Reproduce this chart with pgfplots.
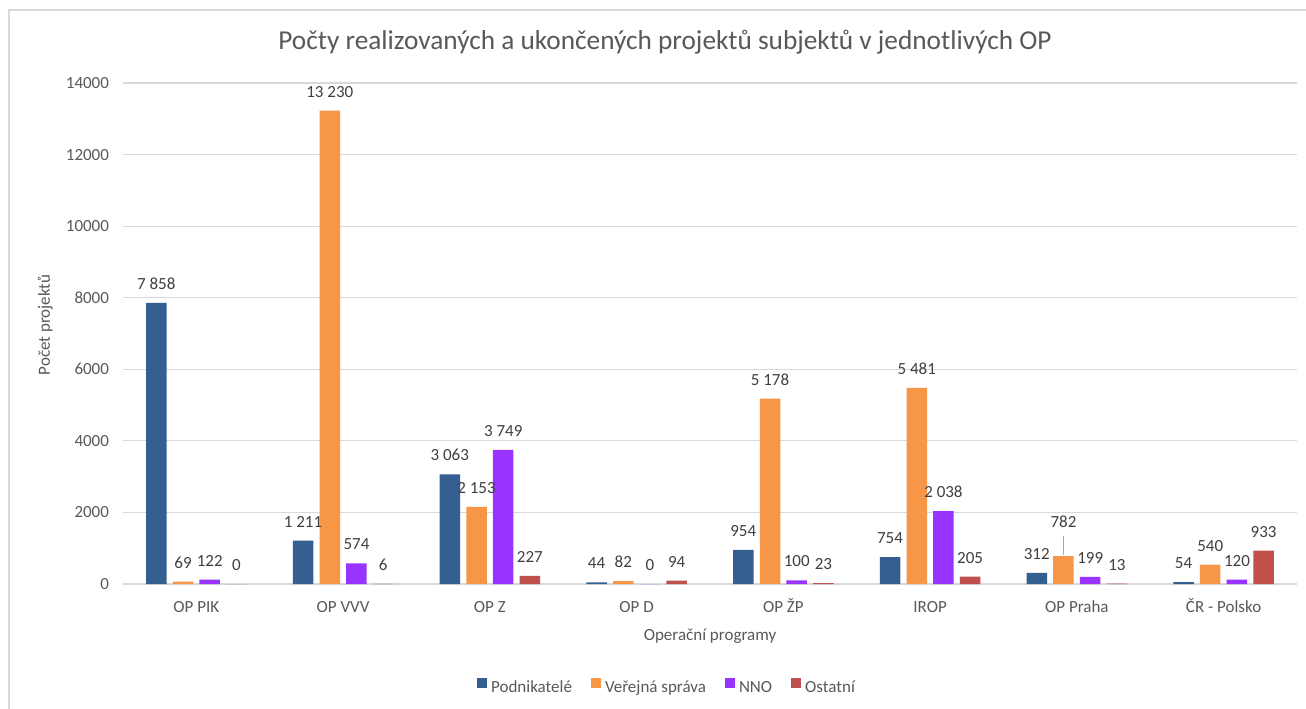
\documentclass[border=0pt]{standalone}
\usepackage{fontspec}
\setmainfont{Carlito}
\usepackage{pgfplots}
\pgfplotsset{compat=1.18}
\definecolor{cblue}{HTML}{365F91}
\definecolor{corange}{HTML}{F79646}
\definecolor{cpurple}{HTML}{9933FF}
\definecolor{cred}{HTML}{C0504D}
\definecolor{gridgray}{HTML}{D9D9D9}
\definecolor{axgray}{HTML}{595959}
\definecolor{lblgray}{HTML}{404040}
\newcommand{\fs}{\fontsize{17pt}{20pt}\selectfont}
\begin{document}
\begin{tikzpicture}
\path[use as bounding box] (-123pt,-125pt) rectangle (1183pt,584pt);
\clip (-123pt,-125pt) rectangle (1183pt,584pt);
\fill[white] (-123pt,-125pt) rectangle (1183pt,584pt);
\draw[gridgray, line width=1.2pt] (-114pt,574pt) rectangle (1190pt,-135pt);
\begin{axis}[
  at={(0pt,0pt)}, anchor=south west,
  scale only axis, width=1174pt, height=501pt,
  ybar=6.2pt, bar width=20.5pt,
  xmin=-0.5, xmax=7.5, ymin=0, ymax=14000,
  xtick={0,...,7},
  xticklabels={OP PIK, OP VVV, OP Z, OP D, OP ŽP, IROP, OP Praha, ČR - Polsko},
  ytick={0,2000,...,14000},
  scaled y ticks=false,
  ymajorgrids, grid style={draw=gridgray, line width=1.1pt},
  axis x line*=bottom, axis y line*=left, axis line style={draw=none},
  major tick length=0pt,
  /pgf/number format/assume math mode=true,
  yticklabel style={font=\fs, text=axgray, xshift=-10.5pt, /pgf/number format/1000 sep={}},
  xticklabel style={font=\fs, text=axgray, anchor=base, yshift=-28pt},
  nodes near coords,
  nodes near coords style={font=\fs, text=lblgray, anchor=base, yshift=13.5pt,
     /pgf/number format/1000 sep={\ }},
  every axis plot/.append style={draw=none},
  legend columns=-1,
  legend style={at={(axis description cs:0.4634,-0.2056)}, anchor=center,
     draw=none, fill=none, font=\fs, text=axgray,
     /tikz/every even column/.append style={column sep=17pt},
     /tikz/every odd column/.append style={column sep=2pt},
     nodes={inner sep=2pt}},
  legend image code/.code={\fill[#1] (0pt,-0.5pt) rectangle (10pt,9.5pt);},
]
\addplot[fill=cblue] coordinates {(0,7858) (1,1211) (2,3063) (3,44) (4,954) (5,754) (6,312) (7,54)};
\addplot[fill=corange,
  visualization depends on={value \coordindex \as \myidx},
  every node near coord/.append style={yshift={15*(\myidx==6)}}]
  coordinates {(0,69) (1,13230) (2,2153) (3,82) (4,5178) (5,5481) (6,782) (7,540)};
\addplot[fill=cpurple] coordinates {(0,122) (1,574) (2,3749) (3,0) (4,100) (5,2038) (6,199) (7,120)};
\addplot[fill=cred] coordinates {(0,0) (1,6) (2,227) (3,94) (4,23) (5,205) (6,13) (7,933)};
\legend{Podnikatelé, Veřejná správa, NNO, Ostatní}
\draw[gray!70, line width=1pt] ([xshift=-13.35pt, yshift=1pt]axis cs:6,782) -- ([xshift=-13.35pt, yshift=20pt]axis cs:6,782);
\end{axis}
\node[font=\fontsize{27.3pt}{31pt}\selectfont, text=axgray, anchor=base] at (542pt,534pt) {Počty realizovaných a ukončených projektů subjektů v jednotlivých OP};
\node[font=\fs, text=axgray, anchor=base] at (587pt,-56.5pt) {Operační programy};
\node[font=\fs, text=axgray, anchor=base, rotate=90] at (-73pt,259pt) {Počet projektů};
\end{tikzpicture}
\end{document}
